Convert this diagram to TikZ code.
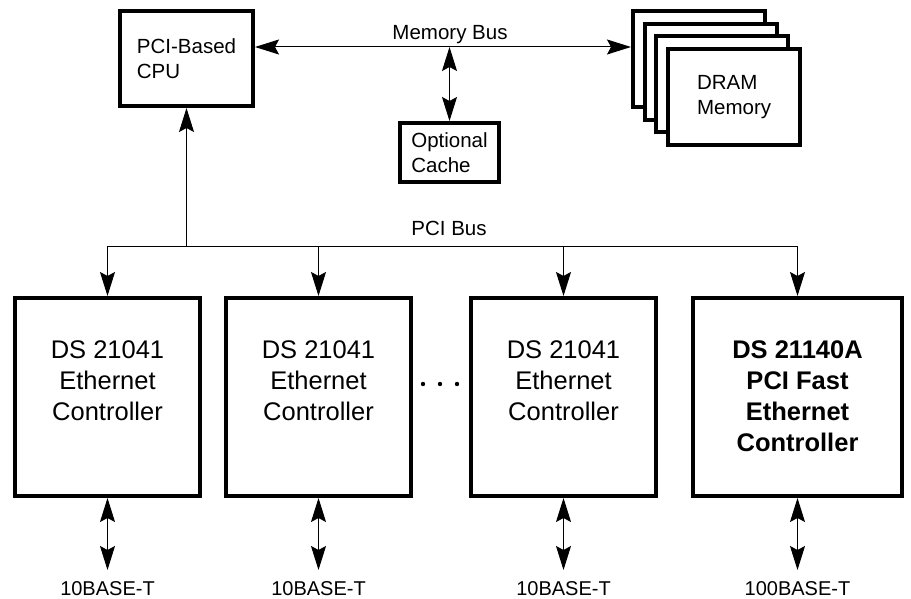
\documentclass[tikz,border=0pt]{standalone}
\usepackage{fontspec}
\setmainfont{Liberation Sans}
\usetikzlibrary{arrows.meta, positioning}

\begin{document}
\begin{tikzpicture}[x=1pt, y=-1pt, >={Stealth[length=24pt, width=15pt, inset=4pt]},
	blk/.style={draw, line width=4pt, fill=white, inner sep=0pt},
	small/.style={font=\fontsize{20.5}{25}\selectfont, align=left},
	big/.style={font=\fontsize{25.5}{31}\selectfont, align=center, inner sep=0pt},
	bigb/.style={big, font=\fontsize{25.5}{31}\selectfont\bfseries},
	port/.style={font=\fontsize{20}{23}\selectfont, inner sep=0pt},
	bus/.style={line width=1pt}]
	% ====== canvas ======
	\useasboundingbox (0,0) rectangle (911,599);
	
	% ====== bus levels ======
	\coordinate (mb) at (0,47);  % memory bus
	\coordinate (pb) at (0,246); % PCI bus
	\coordinate (tp) at (0,570); % end of port arrows
	\coordinate (lb) at (0,595); % baseline of port labels
	
	% ====== CPU and cache ======
	\node[blk, small, minimum width=133pt, minimum height=95pt] (cpu) at (186.5,58.5) {PCI-Based\\CPU};
	\node[blk, small, minimum width=99pt, minimum height=59pt] (cache) at (449.5,152.5) {Optional\\Cache};
	
	% ====== DRAM stack ======
	\foreach \i in {0,...,2}
		\node[blk, minimum width=132pt, minimum height=96pt] (dram\i) at ({699+11.7*\i},{59+12.7*\i}) {};
	\node[blk, small, minimum width=132pt, minimum height=96pt] (dram3) at (734.1,97.1) {DRAM\\Memory};
	
	% ====== memory bus ======
	\draw[bus, <->] (cpu.east |- mb) -- (dram0.west |- mb);
	\node[small, anchor=base] (mblabel) at (450,40) {Memory Bus};
	\draw[bus, <->] (cache.north |- mb) -- (cache.north);
	
	% ====== controllers ======
	\foreach \x/\n in {107.5/1, 318.5/2, 563.5/3} {
		\node[blk, minimum width=185pt, minimum height=198pt] (c\n) at (\x,397) {};
		\node[big, below=44pt of c\n.north] (c\n txt) {DS 21041\\Ethernet\\Controller};
	}
	\node[blk, minimum width=209pt, minimum height=198pt] (c4) at (797.5,397) {};
	\node[bigb, below=44pt of c4.north] (c4txt) {DS 21140A\\PCI Fast\\Ethernet\\Controller};
	
	% dots between 2nd and 3rd controller
	\foreach \x in {423,440,457}
		\fill (\x,384) circle[radius=2.2pt];
	
	% ====== PCI bus ======
	\draw[bus] (c1.north |- pb) -- (c4.north |- pb);
	\node[small, anchor=base] (pblabel) at (449,235) {PCI Bus};
	\draw[bus, ->] (cpu.south |- pb) -- (cpu.south);
	\foreach \n in {1,...,4} {
		\draw[bus, ->] (c\n.north |- pb) -- (c\n.north);
		\draw[bus, <->] (c\n.south) -- (c\n.south |- tp);
	}
	
	% ====== ports ======
	\foreach \n/\t in {1/10BASE-T, 2/10BASE-T, 3/10BASE-T, 4/100BASE-T}
		\node[port, anchor=base] (port\n) at (c\n.south |- lb) {\t};
\end{tikzpicture}
\end{document}
